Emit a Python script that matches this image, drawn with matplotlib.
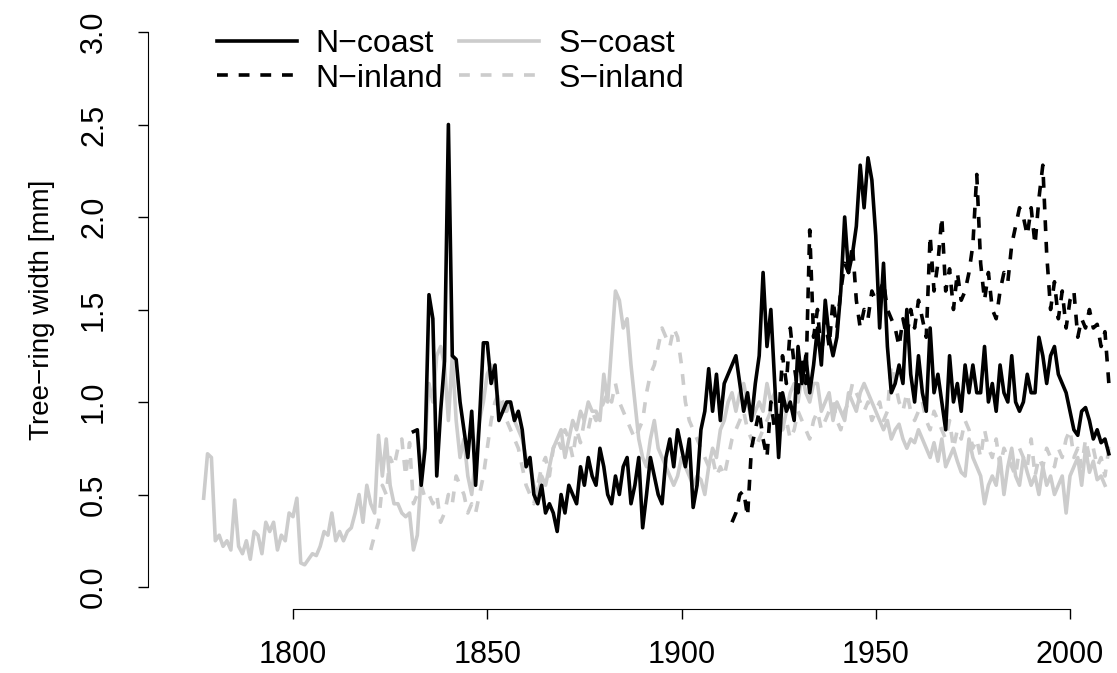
import numpy as np
import matplotlib.pyplot as plt
from matplotlib.lines import Line2D

plt.rcParams['font.family'] = ['Liberation Sans', 'DejaVu Sans']

# yearly tree-ring widths [mm]
s_coast_start = 1777
s_coast = [0.48, 0.72, 0.70, 0.25, 0.28, 0.22, 0.25, 0.20, 0.47, 0.22, 0.18, 0.25, 0.15, 0.30, 0.28,
           0.18, 0.35, 0.30, 0.35, 0.20, 0.28, 0.25, 0.40, 0.38, 0.48, 0.13, 0.12, 0.15, 0.18, 0.17,
           0.22, 0.30, 0.28, 0.40, 0.25, 0.30, 0.25, 0.30, 0.32, 0.40, 0.50, 0.35, 0.55, 0.45, 0.40,
           0.82, 0.60, 0.80, 0.55, 0.45, 0.45, 0.40, 0.38, 0.40, 0.20, 0.28, 0.60, 0.80, 1.10, 1.00,
           1.25, 1.30, 1.20, 0.90, 1.25, 0.90, 0.70, 0.80, 0.60, 0.50, 0.70, 0.90, 1.00, 1.15, 1.20,
           1.10, 1.00, 0.95, 0.95, 1.00, 0.90, 0.85, 0.80, 0.70, 0.65, 0.55, 0.50, 0.60, 0.55, 0.65,
           0.75, 0.80, 0.85, 0.70, 0.80, 0.90, 0.85, 0.95, 0.90, 1.00, 0.95, 0.95, 0.90, 1.15, 1.00,
           1.30, 1.60, 1.55, 1.40, 1.45, 1.20, 1.00, 0.80, 0.70, 0.65, 0.80, 0.90, 0.75, 0.70, 0.65,
           0.60, 0.55, 0.60, 0.70, 0.65, 0.60, 0.55, 0.60, 0.58, 0.50, 0.65, 0.75, 0.70, 0.85, 0.90,
           1.00, 1.05, 0.95, 1.05, 1.10, 1.00, 0.90, 0.95, 1.00, 0.95, 1.10, 1.00, 1.05, 0.90, 0.85,
           0.95, 1.05, 1.10, 1.00, 1.15, 1.05, 1.00, 1.10, 1.10, 0.95, 1.00, 1.05, 0.90, 1.00, 0.95,
           0.90, 1.05, 1.00, 0.95, 1.05, 1.10, 1.05, 1.00, 0.95, 0.90, 0.85, 0.90, 0.80, 0.85, 0.88,
           0.80, 0.75, 0.80, 0.78, 0.85, 0.80, 0.75, 0.70, 0.78, 0.68, 0.80, 0.65, 0.70, 0.75, 0.68,
           0.62, 0.60, 0.80, 0.70, 0.65, 0.60, 0.45, 0.55, 0.60, 0.55, 0.70, 0.50, 0.65, 0.75, 0.60,
           0.55, 0.70, 0.62, 0.55, 0.60, 0.50, 0.65, 0.55, 0.60, 0.50, 0.55, 0.60, 0.40, 0.60, 0.65,
           0.70, 0.55, 0.75, 0.62, 0.68, 0.58, 0.60, 0.55]

s_inland_start = 1820
s_inland = [0.20, 0.28, 0.35, 0.55, 0.50, 0.70, 0.65, 0.75, 0.80, 0.60, 0.78, 0.45, 0.50, 0.55, 0.48,
            0.50, 0.45, 0.50, 0.35, 0.40, 0.50, 0.45, 0.60, 0.55, 0.50, 0.40, 0.45, 0.40, 0.50, 0.60,
            0.75, 0.90, 1.00, 1.05, 1.00, 0.90, 0.85, 0.80, 0.75, 0.65, 0.55, 0.50, 0.45, 0.55, 0.65,
            0.70, 0.60, 0.75, 0.80, 0.75, 0.85, 0.80, 0.70, 0.85, 0.78, 0.90, 0.85, 0.95, 0.90, 0.95,
            1.00, 1.05, 1.00, 1.10, 1.00, 0.95, 0.90, 0.85, 0.80, 0.85, 0.90, 1.05, 1.15, 1.20, 1.30,
            1.40, 1.35, 1.30, 1.40, 1.35, 1.20, 1.00, 0.90, 0.85, 0.80, 0.75, 0.70, 0.65, 0.70, 0.60,
            0.65, 0.60, 0.70, 0.80, 0.85, 0.90, 0.95, 0.85, 0.80, 0.75, 0.80, 0.85, 0.90, 0.95, 1.00,
            0.90, 0.85, 0.90, 0.80, 0.85, 0.95, 0.90, 0.85, 0.80, 0.90, 0.95, 0.85, 0.90, 0.95, 1.00,
            0.90, 0.85, 0.95, 1.00, 1.10, 1.05, 1.00, 0.95, 1.00, 0.90, 0.95, 1.00, 0.90, 0.95, 1.20,
            1.10, 1.00, 0.95, 1.05, 0.95, 0.90, 0.95, 1.00, 0.90, 0.85, 0.95, 0.90, 0.85, 0.80, 0.90,
            0.75, 0.85, 0.80, 0.90, 0.85, 0.75, 0.80, 0.70, 0.85, 0.75, 0.70, 0.80, 0.65, 0.75, 0.70,
            0.65, 0.60, 0.75, 0.70, 0.65, 0.80, 0.60, 0.70, 0.65, 0.75, 0.70, 0.65, 0.75, 0.70, 0.80,
            0.85, 0.70, 0.75, 0.65, 0.80, 0.70, 0.75, 0.65, 0.70, 0.60, 0.75, 0.70]

n_coast_start = 1831
n_coast = [0.84, 0.85, 0.55, 0.75, 1.58, 1.45, 0.60, 0.95, 1.22, 2.50, 1.25, 1.23, 1.00, 0.85, 0.70,
           0.95, 0.55, 0.90, 1.32, 1.32, 1.10, 1.20, 0.90, 0.95, 1.00, 1.00, 0.90, 0.95, 0.85, 0.65,
           0.70, 0.50, 0.45, 0.55, 0.40, 0.45, 0.40, 0.30, 0.50, 0.40, 0.55, 0.50, 0.45, 0.65, 0.55,
           0.70, 0.60, 0.55, 0.75, 0.65, 0.50, 0.45, 0.60, 0.50, 0.65, 0.70, 0.45, 0.55, 0.70, 0.32,
           0.50, 0.70, 0.60, 0.50, 0.45, 0.70, 0.80, 0.65, 0.85, 0.75, 0.65, 0.80, 0.43, 0.55, 0.85,
           0.95, 1.18, 0.95, 1.15, 0.90, 1.10, 1.15, 1.20, 1.25, 1.10, 0.95, 1.05, 0.90, 1.10, 1.25,
           1.70, 1.30, 1.50, 1.10, 0.70, 1.05, 0.95, 1.00, 0.90, 1.30, 1.10, 1.25, 1.05, 1.20, 1.40,
           1.20, 1.55, 1.35, 1.25, 1.35, 1.60, 2.00, 1.70, 1.80, 1.95, 2.28, 2.05, 2.32, 2.20, 1.90,
           1.40, 1.75, 1.30, 1.05, 1.10, 1.20, 1.10, 1.50, 1.15, 1.00, 1.25, 1.05, 0.95, 1.40, 1.05,
           1.15, 1.00, 0.85, 1.25, 1.00, 1.10, 0.95, 1.20, 1.05, 1.20, 1.05, 1.05, 1.30, 1.00, 1.10,
           0.95, 1.20, 1.05, 1.00, 1.25, 1.00, 0.95, 1.00, 1.15, 1.05, 1.05, 1.35, 1.25, 1.10, 1.25,
           1.30, 1.15, 1.10, 1.05, 0.95, 0.85, 0.82, 0.95, 0.97, 0.90, 0.80, 0.85, 0.78, 0.80, 0.72]

n_inland_start = 1913
n_inland = [0.35, 0.40, 0.50, 0.52, 0.38, 0.75, 0.85, 0.95, 0.80, 0.70, 1.00, 0.85, 0.90, 1.25, 1.10,
            1.40, 1.20, 1.05, 1.25, 1.10, 1.93, 1.35, 1.50, 1.25, 1.45, 1.30, 1.55, 1.40, 1.60, 1.75,
            1.70, 1.85, 1.55, 1.40, 1.50, 1.45, 1.60, 1.55, 1.60, 1.65, 1.50, 1.45, 1.40, 1.30, 1.45,
            1.35, 1.50, 1.40, 1.55, 1.45, 1.35, 1.90, 1.60, 1.75, 2.00, 1.60, 1.72, 1.50, 1.70, 1.55,
            1.60, 1.70, 1.85, 2.23, 1.75, 1.55, 1.70, 1.50, 1.45, 1.60, 1.70, 1.65, 1.85, 1.95, 2.05,
            2.00, 1.90, 2.05, 1.85, 2.10, 2.28, 1.80, 1.50, 1.65, 1.45, 1.60, 1.40, 1.55, 1.60, 1.35,
            1.45, 1.40, 1.50, 1.40, 1.42, 1.30, 1.38, 1.10]

black = '#000000'
grey = '#cccccc'

fig = plt.figure(figsize=(11.17, 6.73), dpi=100)
# x: 1800 -> 293 px, 2000 -> 1070 px ; y: 0 -> 587 px, 3 -> 32 px
ax = fig.add_axes([148 / 1117, (673 - 609) / 673, (1117 - 148) / 1117, (609 - 10) / 673])

def yrs(start, vals):
    return np.arange(start, start + len(vals))

lw = 2.6
ax.plot(yrs(s_coast_start, s_coast), s_coast, color=grey, lw=lw)
ax.plot(yrs(s_inland_start, s_inland), s_inland, color=grey, lw=lw, dashes=(3, 3))
ax.plot(yrs(n_coast_start, n_coast), n_coast, color=black, lw=lw)
ax.plot(yrs(n_inland_start, n_inland), n_inland, color=black, lw=lw, dashes=(3, 3))

ax.set_xlim(1800 - 145 / 3.885, 2000 + 47 / 3.885)
ax.set_ylim(-22 / 185, 3 + 22 / 185)

for s in ['top', 'right']:
    ax.spines[s].set_visible(False)
ax.spines['left'].set_bounds(0, 3)
ax.spines['bottom'].set_bounds(1800, 2000)
ax.set_xticks([1800, 1850, 1900, 1950, 2000])
ax.set_yticks([0, 0.5, 1.0, 1.5, 2.0, 2.5, 3.0])
ax.set_yticklabels(['0.0', '0.5', '1.0', '1.5', '2.0', '2.5', '3.0'], rotation=90, va='center')
ax.tick_params(length=7, width=1, labelsize=22)
ax.tick_params(axis='x', pad=15)
ax.tick_params(axis='y', pad=21)
ax.set_ylabel('Tree\u2212ring width [mm]', fontsize=20, labelpad=17)

h = [Line2D([], [], color=black, lw=lw), Line2D([], [], color=black, lw=lw, dashes=(3, 3)),
     Line2D([], [], color=grey, lw=lw), Line2D([], [], color=grey, lw=lw, dashes=(3, 3))]
fig.legend(h, ['N\u2212coast', 'N\u2212inland', 'S\u2212coast', 'S\u2212inland'], ncol=2,
           frameon=False, fontsize=23, loc='upper left', bbox_to_anchor=(188 / 1117, 1.0),
           handlelength=2.5, columnspacing=0.5, labelspacing=0.15, handletextpad=0.6)

fig.savefig('out.png', dpi=100)
